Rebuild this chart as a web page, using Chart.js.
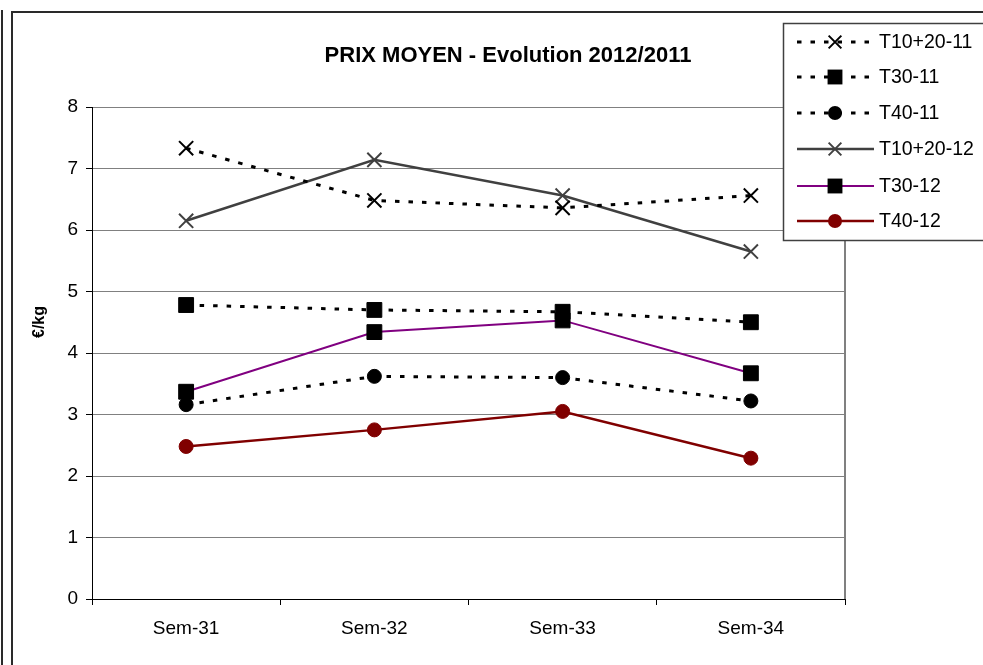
<!DOCTYPE html>
<html>
<head>
<meta charset="utf-8">
<script src="https://cdn.jsdelivr.net/npm/chart.js@4/dist/chart.umd.min.js"></script>
<style>
  html, body { margin: 0; padding: 0; background: #fff; }
  #wrap { position: relative; width: 983px; height: 665px; }
</style>
</head>
<body>
<div id="wrap"><canvas id="c" width="983" height="665"></canvas></div>
<script>
const categories = ['Sem-31', 'Sem-32', 'Sem-33', 'Sem-34'];
const seriesNames = ['T10+20-11', 'T30-11', 'T40-11', 'T10+20-12', 'T30-12', 'T40-12'];
const t1020_11 = [7.33, 6.48, 6.36, 6.56];
const t30_11   = [4.78, 4.70, 4.67, 4.50];
const t40_11   = [3.16, 3.62, 3.60, 3.22];
const t1020_12 = [6.15, 7.14, 6.56, 5.65];
const t30_12   = [3.37, 4.34, 4.53, 3.67];
const t40_12   = [2.48, 2.75, 3.05, 2.29];
const yTicks = [0, 1, 2, 3, 4, 5, 6, 7, 8];
const chartTitle = 'PRIX MOYEN - Evolution 2012/2011';
const yAxisTitle = '€/kg';

const FONT = '"Liberation Sans", Arial, sans-serif';
const DASH = [4.5, 9];

const styles = [
  { color: '#000000', point: 'crossRot', radius: 10, fill: '#000000', dash: DASH, width: 3, pw: 2 },
  { color: '#000000', point: 'rect', radius: 10.5, fill: '#000000', dash: DASH, width: 3, pw: 1 },
  { color: '#000000', point: 'circle', radius: 7, fill: '#000000', dash: DASH, width: 3, pw: 1 },
  { color: '#404040', point: 'crossRot', radius: 10, fill: '#404040', dash: [], width: 2.5, pw: 2 },
  { color: '#800080', point: 'rect', radius: 10.5, fill: '#000000', dash: [], width: 2, pw: 1, pc: '#000000' },
  { color: '#800000', point: 'circle', radius: 7, fill: '#800000', dash: [], width: 2.5, pw: 1 }
];
const seriesData = [t1020_11, t30_11, t40_11, t1020_12, t30_12, t40_12];

const datasets = seriesNames.map((name, i) => {
  const s = styles[i];
  return {
    label: name,
    data: seriesData[i],
    borderColor: s.color,
    backgroundColor: s.fill,
    borderWidth: s.width,
    borderDash: s.dash,
    pointStyle: s.point,
    pointRadius: s.radius,
    pointHoverRadius: s.radius,
    pointBackgroundColor: s.fill,
    pointBorderColor: s.pc || (s.point === 'crossRot' ? s.color : s.fill),
    pointBorderWidth: s.pw,
    tension: 0,
    fill: false
  };
});

function drawMarker(ctx, s, x, y) {
  ctx.save();
  ctx.setLineDash([]);
  if (s.point === 'crossRot') {
    const o = s.radius * Math.SQRT1_2;
    ctx.strokeStyle = s.color;
    ctx.lineWidth = s.pw;
    ctx.beginPath();
    ctx.moveTo(x - o, y - o); ctx.lineTo(x + o, y + o);
    ctx.moveTo(x + o, y - o); ctx.lineTo(x - o, y + o);
    ctx.stroke();
  } else if (s.point === 'rect') {
    const h = s.radius * Math.SQRT1_2;
    ctx.fillStyle = s.fill;
    ctx.fillRect(x - h, y - h, 2 * h, 2 * h);
  } else {
    ctx.fillStyle = s.fill;
    ctx.beginPath();
    ctx.arc(x, y, s.radius, 0, Math.PI * 2);
    ctx.fill();
  }
  ctx.restore();
}

const deco = {
  id: 'deco',
  beforeDraw(chart) {
    const ctx = chart.ctx;
    ctx.save();
    ctx.fillStyle = '#ffffff';
    ctx.fillRect(0, 0, chart.width, chart.height);
    ctx.strokeStyle = '#2a2a2a';
    ctx.lineWidth = 2;
    ctx.beginPath(); ctx.moveTo(2, 10); ctx.lineTo(2, 665); ctx.stroke();
    ctx.beginPath(); ctx.moveTo(12, 665); ctx.lineTo(12, 12); ctx.lineTo(983, 12); ctx.stroke();
    ctx.restore();
  },
  beforeDatasetsDraw(chart) {
    const ctx = chart.ctx;
    const a = chart.chartArea;
    ctx.save();
    ctx.strokeStyle = '#808080';
    ctx.lineWidth = 2;
    ctx.beginPath(); ctx.moveTo(a.right, a.top); ctx.lineTo(a.right, a.bottom); ctx.stroke();
    ctx.restore();
  },
  afterDraw(chart) {
    const ctx = chart.ctx;
    ctx.save();
    // title
    ctx.fillStyle = '#000';
    ctx.font = 'bold 22px ' + FONT;
    ctx.textAlign = 'center';
    ctx.textBaseline = 'middle';
    ctx.fillText(chartTitle, 508, 56);
    // y axis title
    ctx.save();
    ctx.translate(40, 322);
    ctx.rotate(-Math.PI / 2);
    ctx.font = 'bold 16px ' + FONT;
    ctx.fillText(yAxisTitle, 0, 0);
    ctx.restore();
    // legend
    ctx.fillStyle = '#ffffff';
    ctx.fillRect(783.5, 23.5, 210, 217);
    ctx.strokeStyle = '#404040';
    ctx.lineWidth = 1.5;
    ctx.strokeRect(783.5, 23.5, 210, 217);
    const rows = [42, 77, 113, 149, 186, 221];
    ctx.font = '19.5px ' + FONT;
    ctx.textAlign = 'left';
    ctx.textBaseline = 'middle';
    seriesNames.forEach((name, i) => {
      const s = styles[i];
      const y = rows[i];
      ctx.save();
      ctx.strokeStyle = s.color;
      ctx.lineWidth = s.width;
      ctx.setLineDash(s.dash);
      ctx.beginPath(); ctx.moveTo(797, y); ctx.lineTo(874, y); ctx.stroke();
      ctx.restore();
      drawMarker(ctx, Object.assign({}, s, { radius: s.point === 'crossRot' ? 9 : s.radius }), 835, y);
      ctx.fillStyle = '#000';
      ctx.fillText(name, 879, y + 1);
    });
    ctx.restore();
  }
};

new Chart(document.getElementById('c'), {
  type: 'line',
  data: { labels: categories, datasets: datasets },
  plugins: [deco],
  options: {
    responsive: false,
    animation: false,
    events: [],
    layout: { padding: { top: 107, right: 138, bottom: 0, left: 0 } },
    plugins: { legend: { display: false }, title: { display: false }, tooltip: { enabled: false } },
    scales: {
      x: {
        type: 'category',
        offset: true,
        grid: { offset: true, drawOnChartArea: false, tickLength: 6, color: '#000', tickColor: '#000', tickWidth: 1 },
        border: { color: '#000', width: 1 },
        ticks: { color: '#000', font: { family: FONT, size: 19 }, padding: 12, maxRotation: 0 },
        afterFit(scale) { scale.height = 66; }
      },
      y: {
        min: 0, max: 8,
        afterBuildTicks(scale) { scale.ticks = yTicks.map(v => ({ value: v })); },
        grid: { color: '#808080', lineWidth: 1, tickLength: 6, tickColor: '#000' },
        border: { color: '#000', width: 1 },
        ticks: { color: '#000', font: { family: FONT, size: 19 }, padding: 8 },
        afterFit(scale) { scale.width = 92; }
      }
    }
  }
});
</script>
</body>
</html>
